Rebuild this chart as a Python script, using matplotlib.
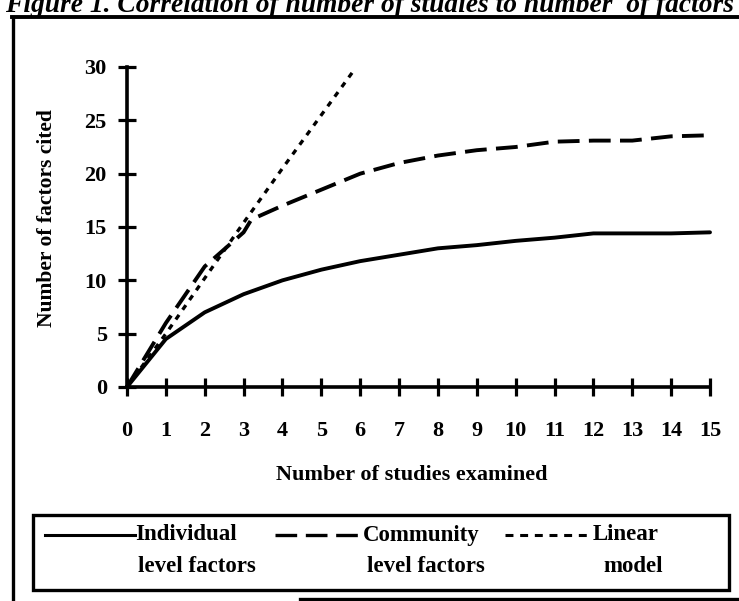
import matplotlib
matplotlib.use("Agg")
import matplotlib.pyplot as plt
from matplotlib.lines import Line2D
from matplotlib.patches import Rectangle

# ---- data ----
studies = [0, 1, 2, 3, 4, 5, 6, 7, 8, 9, 10, 11, 12, 13, 14, 15]
individual = [0, 4.5, 7.0, 8.7, 10.0, 11.0, 11.8, 12.4, 13.0, 13.3, 13.7, 14.0, 14.4, 14.4, 14.4, 14.5]
community_x = [0, 1, 2, 3, 3.2, 4, 5, 6, 7, 8, 9, 10, 11, 12, 13, 14, 15]
community = [0, 6.0, 11.3, 14.5, 15.7, 17.0, 18.5, 20.0, 21.0, 21.7, 22.2, 22.5, 23.0, 23.1, 23.1, 23.5, 23.6]
linear_x = [0, 1, 2, 3, 4, 5, 5.8]
linear = [0, 5.0, 10.2, 15.4, 20.5, 25.5, 29.5]
xticks = list(range(0, 16))
yticks = [0, 5, 10, 15, 20, 25, 30]
title = "Figure 1. Correlation of number of studies to number  of factors"
xlabel = "Number of studies examined"
ylabel = "Number of factors cited"
legend_labels = [("Individual", "level factors"), ("Community", "level factors"), ("Linear", "model")]

W, H = 739, 601
fig = plt.figure(figsize=(W / 100, H / 100), dpi=100)
serif = ["Liberation Serif", "DejaVu Serif"]

def fx(px):
    return px / W

def fy(py):
    return 1 - py / H

ax = fig.add_axes([fx(127), fy(387), fx(710) - fx(127), fy(67) - fy(387)])
ax.set_xlim(0, 15)
ax.set_ylim(0, 30)
for s in ["top", "right"]:
    ax.spines[s].set_visible(False)
for s in ["left", "bottom"]:
    ax.spines[s].set_linewidth(2.6)
    ax.spines[s].set_color("black")
ax.set_xticks(xticks)
ax.set_yticks(yticks)
ax.tick_params(axis="both", direction="inout", length=13, width=2.3, colors="black")
ax.tick_params(axis="x", pad=18)
ax.tick_params(axis="y", pad=8)
for lab in ax.get_xticklabels() + ax.get_yticklabels():
    lab.set_fontfamily(serif)
    lab.set_fontsize(16)
    lab.set_fontweight("bold")
ax.set_facecolor("none")

lw = 2.8
ax.plot(studies, individual, color="black", lw=lw, solid_capstyle="round", clip_on=False)
ax.plot(community_x, community, color="black", lw=lw, dashes=(5.6, 2.4), clip_on=False)
ax.plot(linear_x, linear, color="black", lw=lw * 0.85, dashes=(1.7, 1.9), clip_on=False)

fig.text(fx(412), fy(475), xlabel, ha="center", va="center", fontfamily=serif,
         fontsize=16, fontweight="bold")
fig.text(fx(47), fy(218), ylabel, ha="center", va="center", rotation=90,
         fontfamily=serif, fontsize=15.5, fontweight="bold")

# title (cut off at top)
fig.text(fx(5), fy(12), title, ha="left", va="baseline", fontfamily=serif,
         fontsize=19.8, fontweight="bold", style="italic")

# outer frame lines
fig.add_artist(Line2D([fx(13), fx(13)], [fy(17), fy(601)], color="black", lw=2.4))
fig.add_artist(Line2D([fx(12), fx(739)], [fy(17), fy(17)], color="black", lw=2.8))
fig.add_artist(Line2D([fx(300), fx(739)], [fy(599), fy(599)], color="black", lw=2.4))

# legend box
bx0, bx1, by0, by1 = 33, 729, 515, 590
fig.add_artist(Rectangle((fx(bx0), fy(by1)), fx(bx1) - fx(bx0), fy(by0) - fy(by1),
                         fill=False, ec="black", lw=2.4, transform=fig.transFigure))
ly1, ly2 = 535, 567
fig.add_artist(Line2D([fx(45), fx(135)], [fy(ly1), fy(ly1)], color="black", lw=2.2))
fig.add_artist(Line2D([fx(275), fx(358)], [fy(ly1), fy(ly1)], color="black", lw=2.4, dashes=(6.5, 2.6)))
fig.add_artist(Line2D([fx(505), fx(592)], [fy(ly1), fy(ly1)], color="black", lw=2.2, dashes=(2.6, 2.2)))
lkw = dict(fontfamily=serif, fontsize=16.5, fontweight="bold", va="center", ha="left")
fig.text(fx(135), fy(ly1), legend_labels[0][0], **lkw)
fig.text(fx(138), fy(ly2), legend_labels[0][1], **lkw)
fig.text(fx(363), fy(ly1), legend_labels[1][0], **lkw)
fig.text(fx(367), fy(ly2), legend_labels[1][1], **lkw)
fig.text(fx(593), fy(ly1), legend_labels[2][0], **lkw)
fig.text(fx(603), fy(ly2), legend_labels[2][1], **lkw)

fig.savefig("out.png", dpi=100)
